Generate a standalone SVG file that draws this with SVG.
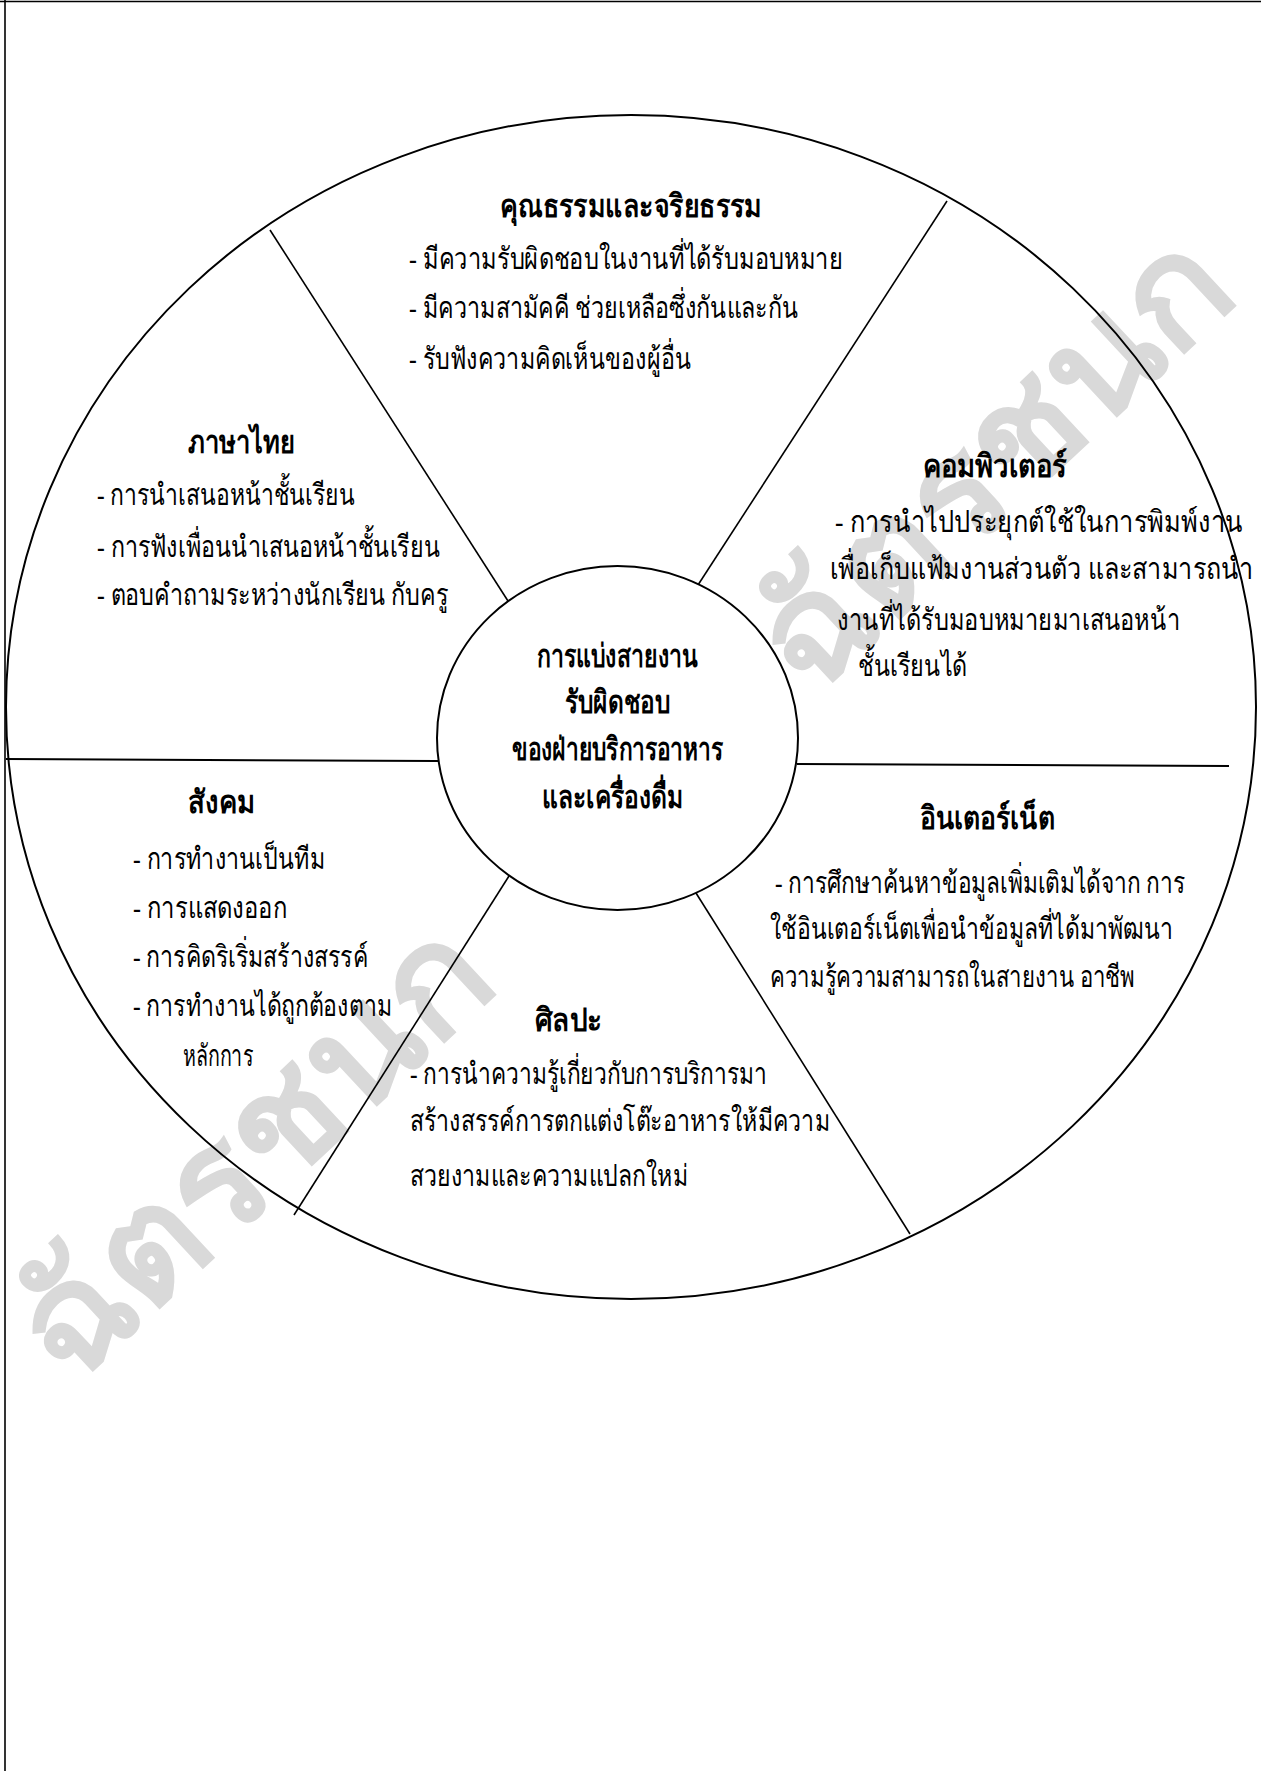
<svg xmlns="http://www.w3.org/2000/svg" width="1261" height="1771" viewBox="0 0 1261 1771">
  <defs>
    <style>
      .t { font-family: 'Liberation Serif', serif; font-size: 30px; fill: #000; }
      .h { font-family: 'Liberation Serif', serif; font-size: 32px; font-weight: bold; fill: #000; }
      .wm { font-family: 'Liberation Serif', serif; font-size: 150px; font-weight: bold; fill: #d9d9d9; }
      .ln { stroke: #000; stroke-width: 1.6; fill: none; }
      .ring { stroke: #000; stroke-width: 2; }
    </style>
  </defs>

  <!-- page -->
  <rect x="0" y="0" width="1261" height="1771" fill="#fff"/>
  <g id="page-frame" class="ln" stroke-width="2">
    <line x1="0" y1="1.5" x2="1261" y2="1.5"/>
    <line x1="5" y1="0" x2="5" y2="1771"/>
  </g>

  <!-- watermark, repeated along the diagonal -->
  <g id="watermark">
    <text class="wm" transform="translate(40,1356) rotate(-43)" x="0" y="45" textLength="590" lengthAdjust="spacingAndGlyphs">ฉัตรชนก</text>
    <text class="wm" transform="translate(780,667) rotate(-43)" x="0" y="45" textLength="590" lengthAdjust="spacingAndGlyphs">ฉัตรชนก</text>
  </g>

  <!-- outer wheel -->
  <ellipse id="outer-ring" class="ring" cx="631" cy="707" rx="625" ry="592" fill="none"/>

  <!-- spokes -->
  <g id="connectors" class="ln">
    <line x1="270" y1="230" x2="508" y2="601"/>
    <line x1="947" y1="201" x2="698" y2="585"/>
    <line x1="6" y1="759" x2="438" y2="761" stroke-width="2"/>
    <line x1="797" y1="764" x2="1229" y2="766" stroke-width="2"/>
    <line x1="509" y1="876" x2="294" y2="1215"/>
    <line x1="696" y1="893" x2="910" y2="1234"/>
  </g>

  <!-- hub -->
  <g id="node-hub">
    <ellipse class="ring" cx="617.5" cy="738" rx="180.5" ry="172" fill="#fff"/>
    <text class="h" x="617.5" y="667" text-anchor="middle" textLength="161" lengthAdjust="spacingAndGlyphs">การแบ่งสายงาน</text>
    <text class="h" x="617.5" y="713" text-anchor="middle" textLength="105" lengthAdjust="spacingAndGlyphs">รับผิดชอบ</text>
    <text class="h" x="617.5" y="760" text-anchor="middle" textLength="211" lengthAdjust="spacingAndGlyphs">ของฝ่ายบริการอาหาร</text>
    <text class="h" x="612.5" y="808" text-anchor="middle" textLength="141" lengthAdjust="spacingAndGlyphs">และเครื่องดื่ม</text>
  </g>

  <!-- ethics -->
  <g id="node-ethics">
    <text class="h" x="631" y="217" text-anchor="middle" textLength="262" lengthAdjust="spacingAndGlyphs">คุณธรรมและจริยธรรม</text>
    <text class="t" x="409" y="269" textLength="434" lengthAdjust="spacingAndGlyphs">- มีความรับผิดชอบในงานที่ได้รับมอบหมาย</text>
    <text class="t" x="409" y="318" textLength="389" lengthAdjust="spacingAndGlyphs">- มีความสามัคคี ช่วยเหลือซึ่งกันและกัน</text>
    <text class="t" x="409" y="369" textLength="282" lengthAdjust="spacingAndGlyphs">- รับฟังความคิดเห็นของผู้อื่น</text>
  </g>

  <!-- Thai language -->
  <g id="node-thai">
    <text class="h" x="241.5" y="453" text-anchor="middle" textLength="107" lengthAdjust="spacingAndGlyphs">ภาษาไทย</text>
    <text class="t" x="97" y="505" textLength="258" lengthAdjust="spacingAndGlyphs">- การนำเสนอหน้าชั้นเรียน</text>
    <text class="t" x="97" y="557" textLength="343" lengthAdjust="spacingAndGlyphs">- การฟังเพื่อนนำเสนอหน้าชั้นเรียน</text>
    <text class="t" x="97" y="605" textLength="351" lengthAdjust="spacingAndGlyphs">- ตอบคำถามระหว่างนักเรียน กับครู</text>
  </g>

  <!-- computer -->
  <g id="node-computer">
    <text class="h" x="995" y="477" text-anchor="middle" textLength="144" lengthAdjust="spacingAndGlyphs">คอมพิวเตอร์</text>
    <text class="t" x="835" y="532" textLength="408" lengthAdjust="spacingAndGlyphs">- การนำไปประยุกต์ใช้ในการพิมพ์งาน</text>
    <text class="t" x="830" y="579" textLength="423" lengthAdjust="spacingAndGlyphs">เพื่อเก็บแฟ้มงานส่วนตัว และสามารถนำ</text>
    <text class="t" x="837" y="630" textLength="343" lengthAdjust="spacingAndGlyphs">งานที่ได้รับมอบหมายมาเสนอหน้า</text>
    <text class="t" x="858" y="676" textLength="109" lengthAdjust="spacingAndGlyphs">ชั้นเรียนได้</text>
  </g>

  <!-- society -->
  <g id="node-society">
    <text class="h" x="221.5" y="813" text-anchor="middle" textLength="67" lengthAdjust="spacingAndGlyphs">สังคม</text>
    <text class="t" x="133" y="869" textLength="192" lengthAdjust="spacingAndGlyphs">- การทำงานเป็นทีม</text>
    <text class="t" x="133" y="918" textLength="154" lengthAdjust="spacingAndGlyphs">- การแสดงออก</text>
    <text class="t" x="133" y="967" textLength="235" lengthAdjust="spacingAndGlyphs">- การคิดริเริ่มสร้างสรรค์</text>
    <text class="t" x="133" y="1016" textLength="259" lengthAdjust="spacingAndGlyphs">- การทำงานได้ถูกต้องตาม</text>
    <text class="t" x="183" y="1066" textLength="70" lengthAdjust="spacingAndGlyphs">หลักการ</text>
  </g>

  <!-- internet -->
  <g id="node-internet">
    <text class="h" x="987.5" y="829" text-anchor="middle" textLength="135" lengthAdjust="spacingAndGlyphs">อินเตอร์เน็ต</text>
    <text class="t" x="775" y="893" textLength="410" lengthAdjust="spacingAndGlyphs">- การศึกษาค้นหาข้อมูลเพิ่มเติมได้จาก  การ</text>
    <text class="t" x="770" y="939" textLength="403" lengthAdjust="spacingAndGlyphs">ใช้อินเตอร์เน็ตเพื่อนำข้อมูลที่ได้มาพัฒนา</text>
    <text class="t" x="770" y="987" textLength="365" lengthAdjust="spacingAndGlyphs">ความรู้ความสามารถในสายงาน อาชีพ</text>
  </g>

  <!-- art -->
  <g id="node-art">
    <text class="h" x="568.5" y="1031" text-anchor="middle" textLength="67" lengthAdjust="spacingAndGlyphs">ศิลปะ</text>
    <text class="t" x="410" y="1084" textLength="357" lengthAdjust="spacingAndGlyphs">- การนำความรู้เกี่ยวกับการบริการมา</text>
    <text class="t" x="410" y="1131" textLength="420" lengthAdjust="spacingAndGlyphs">สร้างสรรค์การตกแต่งโต๊ะอาหารให้มีความ</text>
    <text class="t" x="410" y="1186" textLength="278" lengthAdjust="spacingAndGlyphs">สวยงามและความแปลกใหม่</text>
  </g>
</svg>
